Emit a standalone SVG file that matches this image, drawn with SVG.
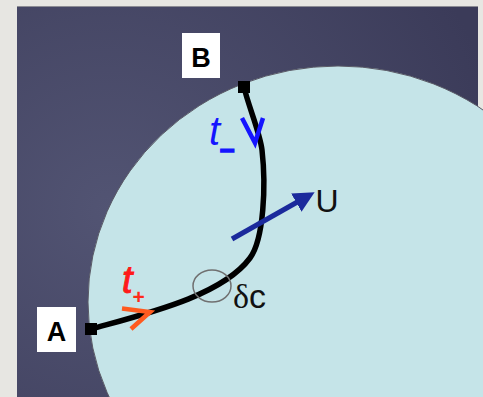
<svg xmlns="http://www.w3.org/2000/svg" width="483" height="397" viewBox="0 0 483 397">
  <defs>
    <radialGradient id="panelGrad" cx="110" cy="210" r="400" gradientUnits="userSpaceOnUse">
      <stop offset="0" stop-color="#525473"/>
      <stop offset="1" stop-color="#3b3b59"/>
    </radialGradient>
    <marker id="arrowU" viewBox="0 0 10 10" refX="2" refY="5" markerWidth="4.2" markerHeight="4.2" orient="auto" markerUnits="strokeWidth">
      <path d="M0,0 L10,5 L0,10 Z" fill="#1b2a9c"/>
    </marker>
    <style>
      .box { fill: #ffffff; }
      .lbl { font-family: "Liberation Sans", Arial, sans-serif; font-weight: bold; font-size: 27px; fill: #000; text-anchor: middle; }
      .end { fill: #000; }
      .chev { fill: none; stroke-width: 4.5; stroke-linecap: butt; stroke-linejoin: miter; }
      .math { font-family: "Liberation Sans", Arial, sans-serif; font-style: italic; }
    </style>
  </defs>

  <!-- background -->
  <rect x="0" y="0" width="483" height="397" fill="#e7e6e2"/>
  <rect id="panel" x="17" y="6" width="461" height="391" fill="url(#panelGrad)"/>
  <line x1="17" y1="6.5" x2="478" y2="6.5" stroke="#8c8c94" stroke-width="1.2"/>

  <!-- region -->
  <g id="region">
    <ellipse cx="338" cy="302" rx="250" ry="236" fill="#c5e4e8" stroke="#5a5a66" stroke-width="1"/>
  </g>

  <!-- connectors -->
  <g id="connectors">
    <path id="curve" d="M91,329 C145,314 222,296 250,258 C264,239 266,185 262,150 C260,132.5 248,105 244,87" fill="none" stroke="#000" stroke-width="5.5"/>
    <line id="vecU" x1="232" y1="239" x2="300" y2="200.5" stroke="#1b2a9c" stroke-width="5" marker-end="url(#arrowU)"/>
    <polyline id="tminus-head" class="chev" points="242,118 255,143 263,118" stroke="#1515ff"/>
    <polyline id="tplus-head" class="chev" points="122,308.5 150,312 131,329" stroke="#ff5a1f"/>
    <ellipse id="dc-mark" cx="212" cy="286" rx="19" ry="16" fill="none" stroke="#707070" stroke-width="1.5"/>
  </g>

  <!-- node B -->
  <g id="nodeB">
    <rect class="box" x="182" y="33" width="38" height="45"/>
    <text class="lbl" x="201" y="67">B</text>
    <rect class="end" x="238" y="81" width="12" height="12"/>
  </g>

  <!-- node A -->
  <g id="nodeA">
    <rect class="box" x="37" y="307" width="39" height="45"/>
    <text class="lbl" x="56.5" y="341">A</text>
    <rect class="end" x="85" y="323" width="12" height="12"/>
  </g>

  <!-- labels -->
  <g id="labels">
    <text class="math" x="209" y="145" font-size="40" fill="#1515ff">t</text>
    <text x="220" y="158" font-family="Liberation Sans, Arial, sans-serif" font-size="26" font-weight="bold" fill="#1515ff" stroke="#1515ff" stroke-width="1.6">–</text>
    <text class="math" x="122" y="293" font-size="38" fill="#ff1a1a" stroke="#ff1a1a" stroke-width="1">t</text>
    <text x="132.5" y="304" font-family="Liberation Sans, Arial, sans-serif" font-size="21" font-weight="bold" fill="#ff2a1a">+</text>
    <text x="315.5" y="212" font-family="Liberation Sans, Arial, sans-serif" font-size="32" fill="#111">U</text>
    <text x="233" y="308" font-family="Liberation Sans, Arial, sans-serif" font-size="34" fill="#111"><tspan font-family="Liberation Serif, Times New Roman, serif">δ</tspan>c</text>
  </g>
</svg>
